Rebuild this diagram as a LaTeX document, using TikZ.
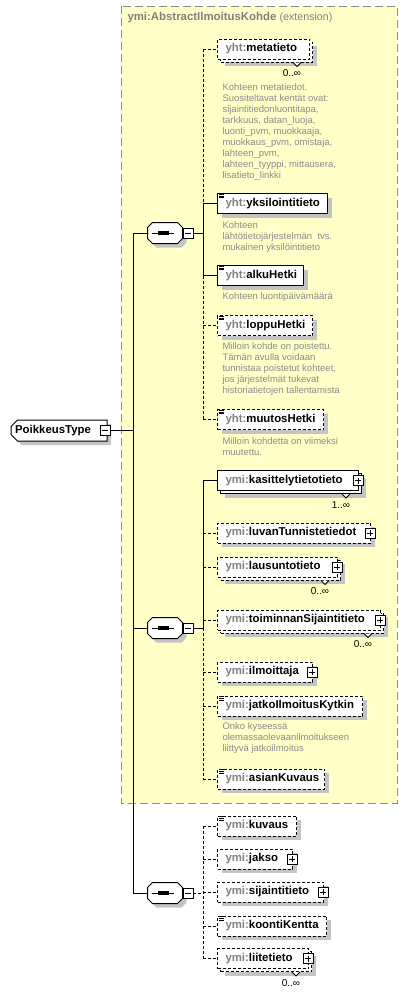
\documentclass[tikz,border=0pt]{standalone}
\usepackage{fontspec}
\setmainfont{Liberation Sans}
\usetikzlibrary{positioning,shapes.misc,shadows,calc}
\definecolor{extfill}{HTML}{FFFFC8}
\definecolor{extline}{HTML}{8C8C8C}
\definecolor{pregray}{HTML}{808080}
\definecolor{descgray}{HTML}{8C8C8C}
\definecolor{shadowgray}{HTML}{C4C4C4}
\newcommand{\pre}[1]{\textcolor{pregray}{#1}}

\begin{document}
\begin{tikzpicture}[x=1pt,y=-1pt,line width=1pt,
  elem/.style={draw,fill=white,anchor=west,minimum height=20pt,inner xsep=8pt,inner ysep=0pt,align=left,text width=#1,font=\bfseries\fontsize{11.4}{13}\selectfont},
  opt/.style={dash pattern=on 3pt off 2pt},
  sh/.style={general shadow={fill=shadowgray,shadow xshift=4pt,shadow yshift=-4pt}},
  multi/.style={general shadow={fill=shadowgray,shadow xshift=7pt,shadow yshift=-7pt},copy shadow={shadow xshift=3pt,shadow yshift=-3pt}},
  desc/.style={anchor=north west,inner sep=0pt,align=left,text=descgray,font=\fontsize{9.5}{10.9}\selectfont},
  mult/.style={inner sep=0pt,font=\fontsize{10}{12}\selectfont},
  pm/.style={draw,solid,fill=white,minimum size=10pt,inner sep=0pt,line width=.8pt},
  minus/.style={pm,path picture={\draw ([xshift=2pt]path picture bounding box.west) -- ([xshift=-2pt]path picture bounding box.east);}},
  plus/.style={pm,path picture={\draw ([xshift=2pt]path picture bounding box.west) -- ([xshift=-2pt]path picture bounding box.east);
    \draw ([yshift=-2pt]path picture bounding box.north) -- ([yshift=2pt]path picture bounding box.south);}},
  seq/.style={minimum width=34pt,minimum height=20pt,inner sep=0pt},
  octa/.style={line width=1pt,line join=miter},
]
\useasboundingbox (0,0) rectangle (408,994);

% extension box
\draw[extline,fill=extfill,dash pattern=on 8pt off 4pt] (121,6) rectangle (397,803);
\node[anchor=west,inner sep=0pt,text=pregray,font=\bfseries\fontsize{11.4}{13}\selectfont] (exttitle) at (127,18)
  {ymi:AbstractIlmoitusKohde {\mdseries\fontsize{10.7}{13}\selectfont(extension)}};

% root
\node[chamfered rectangle,chamfered rectangle corners={north west,south west},chamfered rectangle xsep=3pt,
  draw,fill=white,sh,minimum width=96pt,minimum height=21pt,inner sep=0pt,anchor=west,
  font=\bfseries\fontsize{11.4}{13}\selectfont] (type) at (10.5,430.5) {PoikkeusType\hspace*{12pt}};
\node[minus] (typem) at (105,430.5) {};
\coordinate (sp0) at (133,430.5);

% sequences
\node[seq] (seq1) at (165,233) {};
\node[seq] (seq2) at (165,628) {};
\node[seq] (seq3) at (165,893) {};
\foreach \s in {seq1,seq2,seq3}{
  \fill[shadowgray,transform canvas={shift={(4pt,-4pt)}}] ([xshift=5pt]\s.north west) -- ([xshift=-5pt]\s.north east)
    -- ([yshift=-5pt]\s.north east) -- ([yshift=5pt]\s.south east) -- ([xshift=-5pt]\s.south east)
    -- ([xshift=5pt]\s.south west) -- ([yshift=5pt]\s.south west) -- ([yshift=-5pt]\s.north west) -- cycle;
  \draw[octa,fill=white] ([xshift=5pt]\s.north west) -- ([xshift=-5pt]\s.north east)
    -- ([yshift=-5pt]\s.north east) -- ([yshift=5pt]\s.south east) -- ([xshift=-5pt]\s.south east)
    -- ([xshift=5pt]\s.south west) -- ([yshift=5pt]\s.south west) -- ([yshift=-5pt]\s.north west) -- cycle;
  \draw ([xshift=-13pt]\s.center) -- ([xshift=9pt]\s.center);
  \foreach \d in {-5,-1.5,2}
    \fill ([xshift=\d pt]\s.center) ++(-1.6,-1.6) rectangle ++(3.2,3.2);
}
\node[minus,anchor=west] (seq1m) at (seq1.east) {};
\node[minus,anchor=west] (seq2m) at (seq2.east) {};
\node[minus,anchor=west] (seq3m) at (seq3.east) {};
\coordinate (sp1) at (203,233);
\coordinate (sp2) at (203,628);
\coordinate (sp3) at (203,893);

% first sequence
\node[elem=76pt,opt,multi] (meta) at (217,49) {\pre{yht:}metatieto};
\node[desc] (metaD) at (222,83.5) {Kohteen metatiedot.\\Suositeltavat kentät ovat:\\sijaintitiedonluontitapa,\\tarkkuus, datan\_luoja,\\luonti\_pvm, muokkaaja,\\muokkaus\_pvm, omistaja,\\lahteen\_pvm,\\lahteen\_tyyppi, mittausera,\\lisatieto\_linkki};
\node[elem=94pt,sh] (yks) at (217,203.5) {\pre{yht:}yksilointitieto};
\node[desc] (yksD) at (222,221.5) {Kohteen\\lähtötietojärjestelmän\ \ tvs.\\mukainen yksilöintitieto};
\node[elem=70pt,sh] (alku) at (217,275.5) {\pre{yht:}alkuHetki};
\node[desc] (alkuD) at (222,292.5) {Kohteen luontipäivämäärä};
\node[elem=79pt,opt,sh] (loppu) at (217,325.5) {\pre{yht:}loppuHetki};
\node[desc] (loppuD) at (222,342.5) {Milloin kohde on poistettu.\\Tämän avulla voidaan\\tunnistaa poistetut kohteet,\\jos järjestelmät tukevat\\historiatietojen tallentamista};
\node[elem=90pt,opt,sh] (muutos) at (217,419.5) {\pre{yht:}muutosHetki};
\node[desc] (muutosD) at (222,437.5) {Milloin kohdetta on viimeksi\\muutettu.};

% second sequence
\node[elem=125pt,multi] (kas) at (217,480.5) {\pre{ymi:}kasittelytietotieto};
\node[elem=137pt,opt,sh] (luvan) at (217,533) {\pre{ymi:}luvanTunnistetiedot};
\node[elem=104pt,opt,multi] (laus) at (217,567) {\pre{ymi:}lausuntotieto};
\node[elem=147pt,opt,multi] (toim) at (217,620) {\pre{ymi:}toiminnanSijaintitieto};
\node[elem=79pt,opt,sh] (ilm) at (217,672) {\pre{ymi:}ilmoittaja};
\node[elem=129pt,opt,sh] (jatko) at (217,706) {\pre{ymi:}jatkoIlmoitusKytkin};
\node[desc] (jatkoD) at (222,722.5) {Onko kyseessä\\olemassaolevaanilmoitukseen\\liittyvä jatkoilmoitus};
\node[elem=91pt,opt,sh] (asian) at (217,779) {\pre{ymi:}asianKuvaus};

% third sequence
\node[elem=63pt,opt,sh] (kuvaus) at (217,826) {\pre{ymi:}kuvaus};
\node[elem=59pt,opt,sh] (jakso) at (217,859) {\pre{ymi:}jakso};
\node[elem=90pt,opt,sh] (sij) at (217,892) {\pre{ymi:}sijaintitieto};
\node[elem=93pt,opt,sh] (koonti) at (217,926) {\pre{ymi:}koontiKentta};
\node[elem=75pt,opt,multi] (liite) at (217,958.5) {\pre{ymi:}liitetieto};

% expand boxes
\foreach \n in {kas,luvan,laus,toim,ilm,jakso,sij,liite}
  \node[plus] (\n P) at ([xshift=-1pt]\n.east) {};

% document icons
\foreach \n in {yks,alku,loppu,muutos,jatko,asian,kuvaus,koonti}
  \foreach \k in {1.2,2.9,4.6}
    \draw[line width=.7pt,solid] ([shift={(2,\k)}]\n.north west) -- ++(5,0);

% occurrence marks
\foreach \n/\m in {meta/0..∞,kas/1..∞,laus/0..∞,toim/0..∞,liite/0..∞}{
  \draw[line width=.8pt,fill=white] ([shift={(-17,3)}]\n.south east) -- ++(4,4) -- ++(4,-4);
  \node[mult] (\n N) at ([shift={(-18,14)}]\n.south east) {\m};
}

% connectors
\draw (typem) -- (sp0);
\draw (seq1.west) -- (seq1.west -| sp0) -- (seq3.west -| sp0) -- (seq3.west);
\draw (seq2.west -| sp0) -- (seq2.west);
\draw (seq1m) -- (sp1);
\draw (seq2m) -- (sp2);
\draw[opt] (seq3m) -- (sp3);

\draw[opt] (meta.west -| sp1) -- (yks.west -| sp1);
\draw (yks.west -| sp1) -- (alku.west -| sp1);
\draw[opt] (alku.west -| sp1) -- (muutos.west -| sp1);
\foreach \n/\s in {meta/opt,yks/solid,alku/solid,loppu/opt,muutos/opt}
  \draw[\s] (\n.west -| sp1) -- (\n.west);

\draw (kas.west -| sp2) -- (sp2);
\draw[opt] (sp2) -- (asian.west -| sp2);
\foreach \n/\s in {kas/solid,luvan/opt,laus/opt,toim/opt,ilm/opt,jatko/opt,asian/opt}
  \draw[\s] (\n.west -| sp2) -- (\n.west);

\draw[opt] (kuvaus.west -| sp3) -- (liite.west -| sp3);
\foreach \n in {kuvaus,jakso,sij,koonti,liite}
  \draw[opt] (\n.west -| sp3) -- (\n.west);
\end{tikzpicture}
\end{document}
